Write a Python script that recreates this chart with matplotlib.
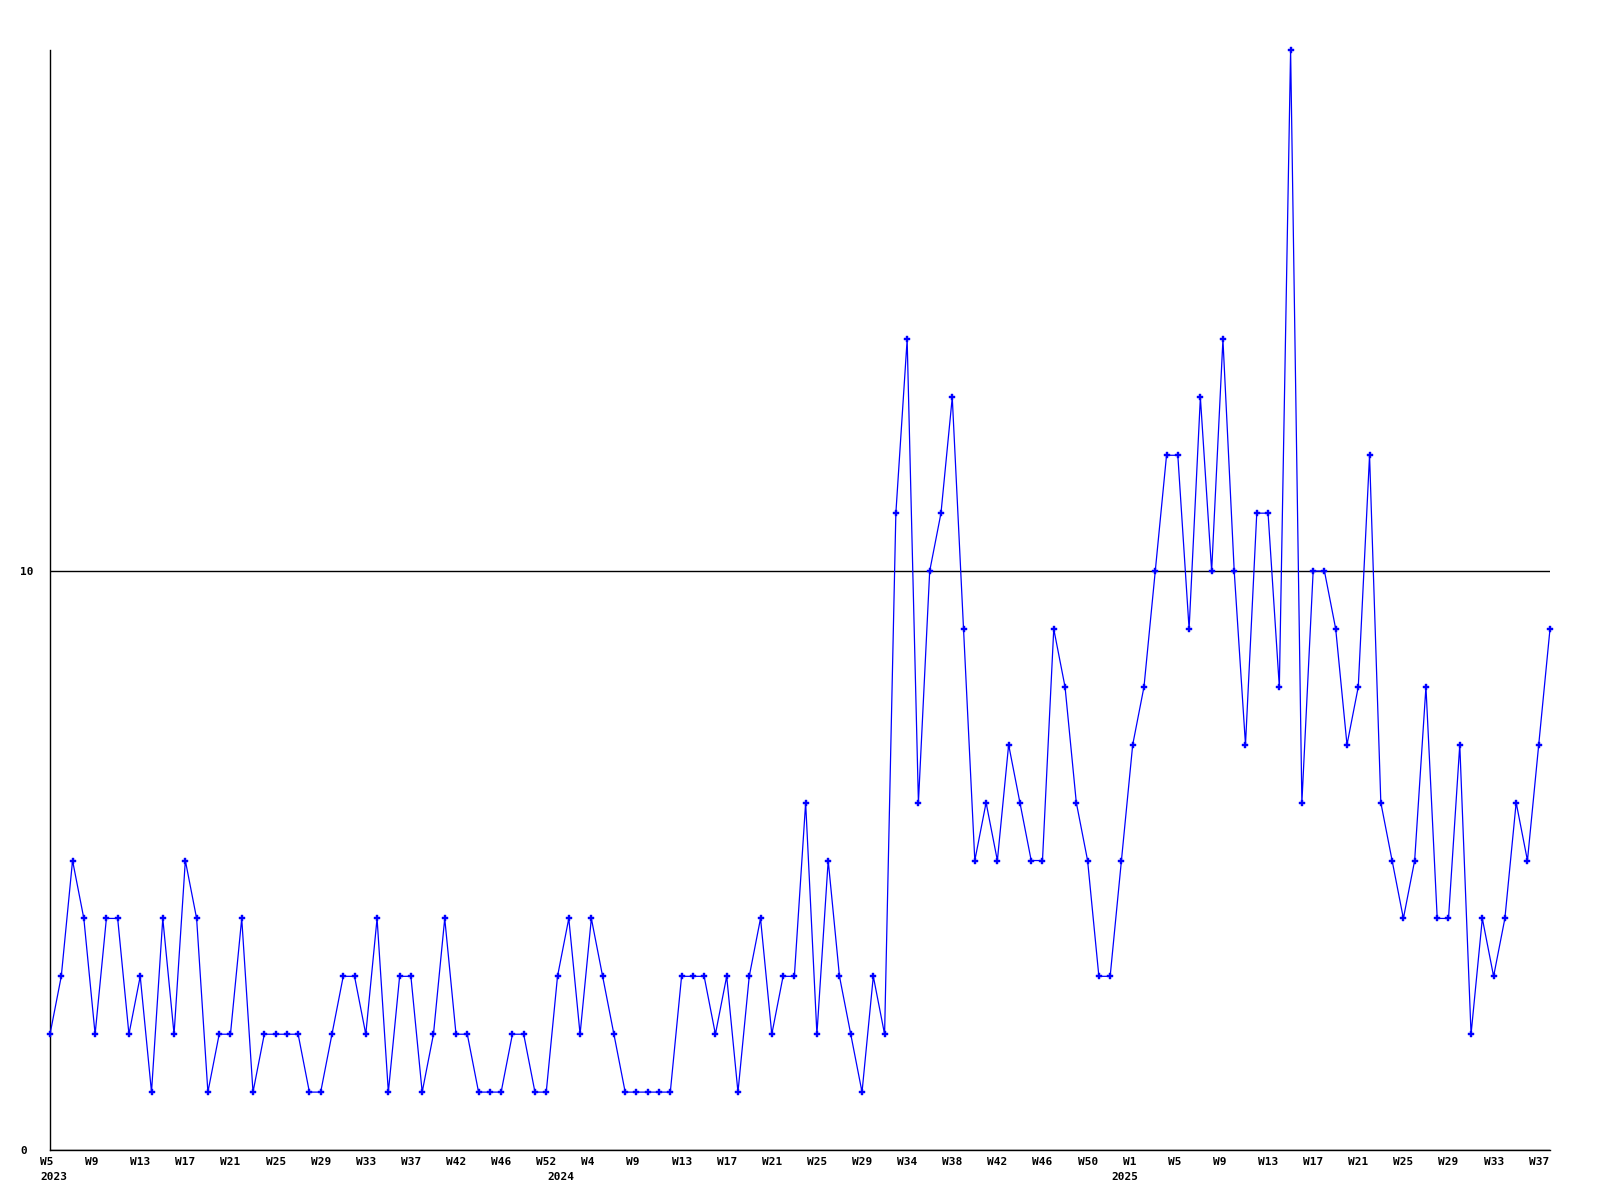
import matplotlib
matplotlib.use("Agg")
import matplotlib.pyplot as plt
import numpy as np
from matplotlib.transforms import ScaledTranslation

# ---- data -------------------------------------------------------------
years = [2023, 2024, 2025]
weeks_2023 = list(range(5, 40)) + [41, 42, 43, 44, 45, 46, 47, 49, 51, 52]
weeks_2024 = list(range(1, 6)) + list(range(7, 31)) + list(range(32, 53))
weeks_2025 = list(range(0, 39))

values = [
    2, 3, 5, 4, 2, 4, 4, 2, 3, 1,
    4, 2, 5, 4, 1, 2, 2, 4, 1, 2,
    2, 2, 2, 1, 1, 2, 3, 3, 2, 4,
    1, 3, 3, 1, 2, 4, 2, 2, 1, 1,
    1, 2, 2, 1, 1, 3, 4, 2, 4, 3,
    2, 1, 1, 1, 1, 1, 3, 3, 3, 2,
    3, 1, 3, 4, 2, 3, 3, 6, 2, 5,
    3, 2, 1, 3, 2, 11, 14, 6, 10, 11,
    13, 9, 5, 6, 5, 7, 6, 5, 5, 9,
    8, 6, 5, 3, 3, 5, 7, 8, 10, 12,
    12, 9, 13, 10, 14, 10, 7, 11, 11, 8,
    19, 6, 10, 10, 9, 7, 8, 12, 6, 5,
    4, 5, 8, 4, 4, 7, 2, 4, 3, 4,
    6, 5, 7, 9,
]
y_ticks = [0, 10]
y_max = 19
label_every = 4

# ---- build categories ------------------------------------------------
cat_year = []
cat_week = []
for yr, wk in zip(years, [weeks_2023, weeks_2024, weeks_2025]):
    cat_year += [yr] * len(wk)
    cat_week += wk
x = np.arange(len(values))

# ---- figure ----------------------------------------------------------
W, H, DPI = 1600, 1200, 100
fig = plt.figure(figsize=(W / DPI, H / DPI), dpi=DPI)
fig.patch.set_facecolor("white")
ax = fig.add_axes([50 / W, 50 / H, 1500 / W, 1100 / H])

font = dict(family="DejaVu Sans Mono", weight="bold", size=8)

ax.plot(x, values, color="#0000ff", lw=0.9, marker="P", ms=4.2,
        mfc="#0000ff", mec="#0000ff", mew=0.3, clip_on=False, zorder=3)

ax.set_xlim(0, len(values) - 1)
ax.set_ylim(0, y_max)

ax.set_yticks(y_ticks)
ax.set_yticklabels([str(v) for v in y_ticks], **font)
ax.yaxis.grid(True, color="black", lw=1)
ax.set_axisbelow(True)

tick_idx = x[::label_every]
ax.set_xticks(tick_idx)
ax.set_xticklabels([f"W{cat_week[i]}" for i in tick_idx], **font)

for s in ["top", "right"]:
    ax.spines[s].set_visible(False)
for s in ["left", "bottom"]:
    ax.spines[s].set_color("black")
    ax.spines[s].set_linewidth(1)

ax.tick_params(axis="both", length=0)
ax.tick_params(axis="x", pad=5)
ax.tick_params(axis="y", pad=21.6)

offset = ScaledTranslation(-10 / DPI, 0, fig.dpi_scale_trans)
for lab in ax.get_xticklabels():
    lab.set_ha("left")
    lab.set_transform(lab.get_transform() + offset)
for lab in ax.get_yticklabels():
    lab.set_ha("left")

# year labels at first point of each year
for yr in years:
    i = cat_year.index(yr)
    ax.annotate(str(yr), xy=(i, 0), xycoords=("data", "axes fraction"),
                xytext=(-7.2, -16), textcoords="offset points",
                ha="left", va="top", **font)

fig.savefig("out.png", dpi=DPI, facecolor="white")
